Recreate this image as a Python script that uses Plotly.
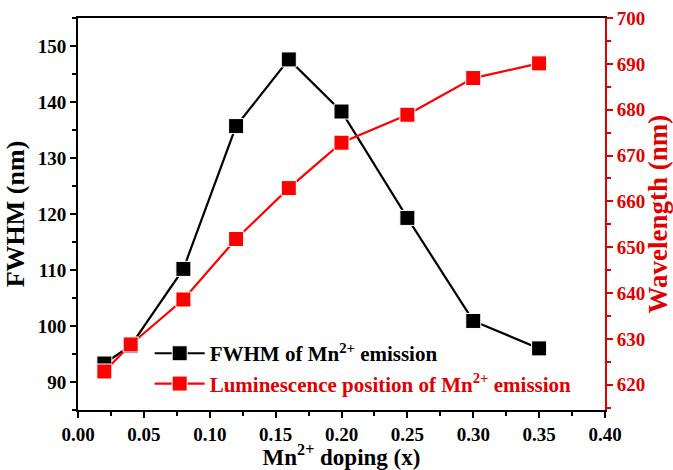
import plotly.graph_objects as go

# Mn2+ doping level (x)
doping = [0.02, 0.04, 0.08, 0.12, 0.16, 0.20, 0.25, 0.30, 0.35]
# FWHM of the Mn2+ emission band (nm)
fwhm_nm = [93.3, 96.5, 110.2, 135.7, 147.6, 138.3, 119.3, 100.9, 96.0]
# Peak position of the Mn2+ luminescence (nm)
peak_nm = [622.9, 628.8, 638.6, 651.8, 662.9, 672.8, 678.9, 686.9, 690.1]

x_ticks = [0.00, 0.05, 0.10, 0.15, 0.20, 0.25, 0.30, 0.35, 0.40]
fwhm_ticks = [90, 100, 110, 120, 130, 140, 150]
wave_ticks = [620, 630, 640, 650, 660, 670, 680, 690, 700]

RED = "#e00000"
FONT = "Liberation Serif"

fig = go.Figure()

fig.add_trace(go.Scatter(
    x=doping, y=fwhm_nm, yaxis="y",
    mode="lines+markers",
    name="FWHM of Mn<sup>2+</sup> emission",
    line=dict(color="black", width=2.2),
    marker=dict(symbol="square", size=15, color="black",
                line=dict(color="white", width=1)),
))

fig.add_trace(go.Scatter(
    x=doping, y=peak_nm, yaxis="y2",
    mode="lines+markers",
    name=f'<span style="color:{RED}">Luminescence position of Mn<sup>2+</sup> emission</span>',
    line=dict(color="#ff0000", width=2.2),
    marker=dict(symbol="square", size=15, color="#ff0000",
                line=dict(color="white", width=1)),
))

fig.update_layout(
    width=673, height=470,
    margin=dict(l=78, r=68, t=18, b=60),
    paper_bgcolor="white", plot_bgcolor="white",
    font=dict(family=FONT, size=19, color="black", weight="bold"),
    showlegend=True,
    legend=dict(
        x=0.136, y=0.015, xanchor="left", yanchor="bottom",
        bgcolor="rgba(0,0,0,0)",
        font=dict(family=FONT, size=21, color="black", weight="bold"),
        itemwidth=50,
    ),
    xaxis=dict(
        range=[0, 0.4], tickvals=x_ticks, tickformat=".2f",
        showline=True, linecolor="black", linewidth=2, mirror=True,
        ticks="outside", ticklen=6, tickwidth=2, tickcolor="black",
        minor=dict(dtick=0.025, ticks="outside", ticklen=4, tickwidth=2,
                   tickcolor="black"),
        showgrid=False, zeroline=False, automargin=False,
        title=dict(text="Mn<sup>2+</sup> doping (x)",
                   font=dict(size=23), standoff=2),
        tickfont=dict(size=19),
    ),
    yaxis=dict(
        range=[85, 155], tickvals=fwhm_ticks,
        showline=True, linecolor="black", linewidth=2,
        ticks="outside", ticklen=6, tickwidth=2, tickcolor="black",
        minor=dict(dtick=5, ticks="outside", ticklen=4, tickwidth=2,
                   tickcolor="black"),
        showgrid=False, zeroline=False, automargin=False,
        title=dict(text="FWHM (nm)", font=dict(size=26), standoff=6),
        tickfont=dict(size=19),
    ),
    yaxis2=dict(
        range=[614.5, 700], tickvals=wave_ticks,
        overlaying="y", side="right", anchor="x",
        showline=True, linecolor=RED, linewidth=2,
        ticks="outside", ticklen=6, tickwidth=2, tickcolor=RED,
        minor=dict(dtick=5, ticks="outside", ticklen=4, tickwidth=2,
                   tickcolor=RED),
        showgrid=False, zeroline=False, automargin=False,
        title=dict(text="Wavelength (nm)", font=dict(size=27, color=RED),
                   standoff=6),
        tickfont=dict(size=19, color=RED),
    ),
)

fig.write_html("out.html")
